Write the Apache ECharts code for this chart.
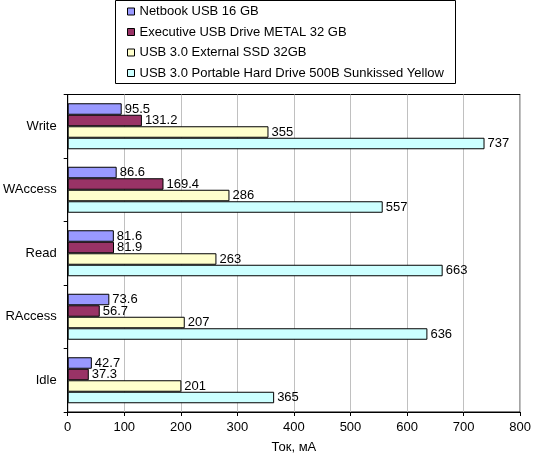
<!DOCTYPE html>
<html>
<head>
<meta charset="utf-8">
<title></title>
<style type="text/css">
body, html, #main {width: 100%; height: 100%; margin: 0; overflow: hidden; background: #fff;}
</style>
<script src="https://cdn.jsdelivr.net/npm/echarts@6/dist/echarts.min.js"></script>
</head>
<body>
<div id="main" style="width:534px;height:459px;"></div>
<script type="text/javascript">
// данные с картинки
var categories = ['Write', 'WAccess', 'Read', 'RAccess', 'Idle'];
var seriesNames = [
    'Netbook USB 16 GB',
    'Executive USB Drive METAL 32 GB',
    'USB 3.0 External SSD 32GB',
    'USB 3.0 Portable Hard Drive 500B Sunkissed Yellow'
];
var netbook   = [95.5, 86.6, 81.6, 73.6, 42.7];
var executive = [131.2, 169.4, 81.9, 56.7, 37.3];
var ssd       = [355, 286, 263, 207, 201];
var hdd       = [737, 557, 663, 636, 365];
var xTicks = [0, 100, 200, 300, 400, 500, 600, 700, 800];

var colors = ['#9999ff', '#993366', '#ffffcc', '#ccffff'];
var font = 'Liberation Sans, Arial, sans-serif';
var fs = 13;

var chart = echarts.init(document.getElementById('main'));

var allData = [netbook, executive, ssd, hdd];
var series = allData.map(function (d, i) {
    return {
        name: seriesNames[i],
        type: 'bar',
        data: d,
        barWidth: 11.5,
        barGap: '0%',
        itemStyle: {color: colors[i], borderColor: '#000', borderWidth: 1},
        label: {
            show: true,
            position: 'right',
            distance: 3,
            color: '#000',
            fontFamily: font,
            fontSize: fs
        },
        emphasis: {disabled: true}
    };
});

var option = {
    animation: false,
    backgroundColor: '#fff',
    textStyle: {fontFamily: font},
    graphic: [{
        type: 'rect',
        shape: {x: 115.5, y: 0.5, width: 340, height: 83},
        style: {fill: '#fff', stroke: '#000', lineWidth: 1},
        z: -1
    }],
    legend: {
        orient: 'vertical',
        left: 127,
        top: 5,
        padding: 0,
        itemWidth: 7,
        itemHeight: 7,
        itemGap: 7.5,
        icon: 'rect',
        selectedMode: false,
        itemStyle: {borderColor: '#000', borderWidth: 1},
        textStyle: {color: '#000', fontSize: fs, fontFamily: font},
        data: seriesNames
    },
    grid: {
        left: 67,
        top: 94.5,
        right: 11,
        bottom: 43,
        show: true,
        borderColor: '#000',
        borderWidth: 1,
        backgroundColor: '#fff'
    },
    xAxis: {
        type: 'value',
        min: xTicks[0],
        max: xTicks[xTicks.length - 1],
        interval: 100,
        name: 'Ток, мА',
        nameLocation: 'middle',
        nameGap: 29,
        nameTextStyle: {color: '#000', fontSize: fs, fontFamily: font},
        axisLine: {show: true, lineStyle: {color: '#000'}},
        axisTick: {show: true, length: 4, lineStyle: {color: '#000'}},
        axisLabel: {color: '#000', fontSize: fs, fontFamily: font, margin: 9},
        splitLine: {show: true, lineStyle: {color: '#c0c0c0'}}
    },
    yAxis: {
        type: 'category',
        data: categories,
        inverse: true,
        axisLine: {show: true, lineStyle: {color: '#000'}},
        axisTick: {show: true, length: 4, lineStyle: {color: '#000'}},
        axisLabel: {color: '#000', fontSize: fs, fontFamily: font, margin: 11},
        splitLine: {show: false}
    },
    series: series
};
chart.setOption(option);
</script>
</body>
</html>
